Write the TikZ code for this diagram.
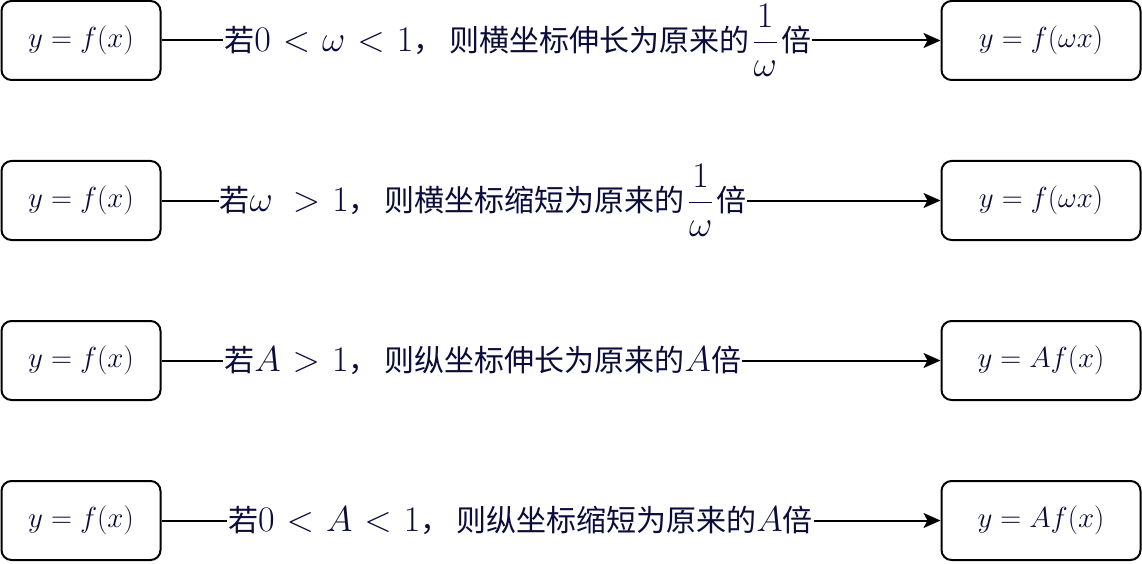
\RequirePackage{fix-cm}
\documentclass[tikz,border=0pt]{standalone}
\usepackage{amsmath}
\usepackage{fontspec}
\newfontfamily\cjk{Noto Sans CJK SC}
\usetikzlibrary{arrows.meta}
\definecolor{ink}{RGB}{12,12,58}
% larger, more loosely spaced math inside the edge labels
\newcommand\mth[1]{{\fontsize{36}{40}\selectfont\thickmuskip=6mu$#1$}}
% a condition followed by its full-width comma
\newcommand\cond[1]{\mth{#1}，\kern6pt}
% the scale factor 1/omega
\newcommand\frc{\kern3pt\mth{\dfrac{1}{\omega}}\kern3pt}
\tikzset{
  box/.style={draw=black, line width=2pt, rounded corners=10pt, fill=white,
    minimum height=79pt, text=ink, font=\fontsize{29}{34}\selectfont},
  lbox/.style={box, minimum width=159pt},
  rbox/.style={box, minimum width=199pt},
  edge/.style={draw=black, line width=2pt, -{Stealth[length=17pt, width=15pt, inset=4pt]}},
  lab/.style={fill=white, text=ink, inner xsep=1pt, inner ysep=0pt, anchor=west,
    font=\fontsize{30}{36}\selectfont\cjk}
}
\begin{document}
\begin{tikzpicture}[x=1pt, y=-1pt]
\useasboundingbox (0,0) rectangle (1142,564);
% left-hand boxes
\node[lbox] (l1) at (81,40.5)  {$y = f(x)$};
\node[lbox] (l2) at (81,200.5) {$y = f(x)$};
\node[lbox] (l3) at (81,360.5) {$y = f(x)$};
\node[lbox] (l4) at (81,520.5) {$y = f(x)$};
% right-hand boxes
\node[rbox] (r1) at (1041,40.5)  {$y = f(\omega x)$};
\node[rbox] (r2) at (1041,200.5) {$y = f(\omega x)$};
\node[rbox] (r3) at (1041,360.5) {$y = Af(x)$};
\node[rbox] (r4) at (1041,520.5) {$y = Af(x)$};
% transformations
\draw[edge] (l1) -- node[lab, pos=0.078] {若\cond{0 < \omega < 1}则横坐标伸长为原来的\frc 倍} (r1);
\draw[edge] (l2) -- node[lab, pos=0.072] {若\cond{\omega\ > 1}则横坐标缩短为原来的\frc 倍} (r2);
\draw[edge] (l3) -- node[lab, pos=0.078] {若\cond{A > 1}则纵坐标伸长为原来的\mth{A}倍} (r3);
\draw[edge] (l4) -- node[lab, pos=0.083] {若\cond{0 < A < 1}则纵坐标缩短为原来的\mth{A}倍} (r4);
\end{tikzpicture}
\end{document}
